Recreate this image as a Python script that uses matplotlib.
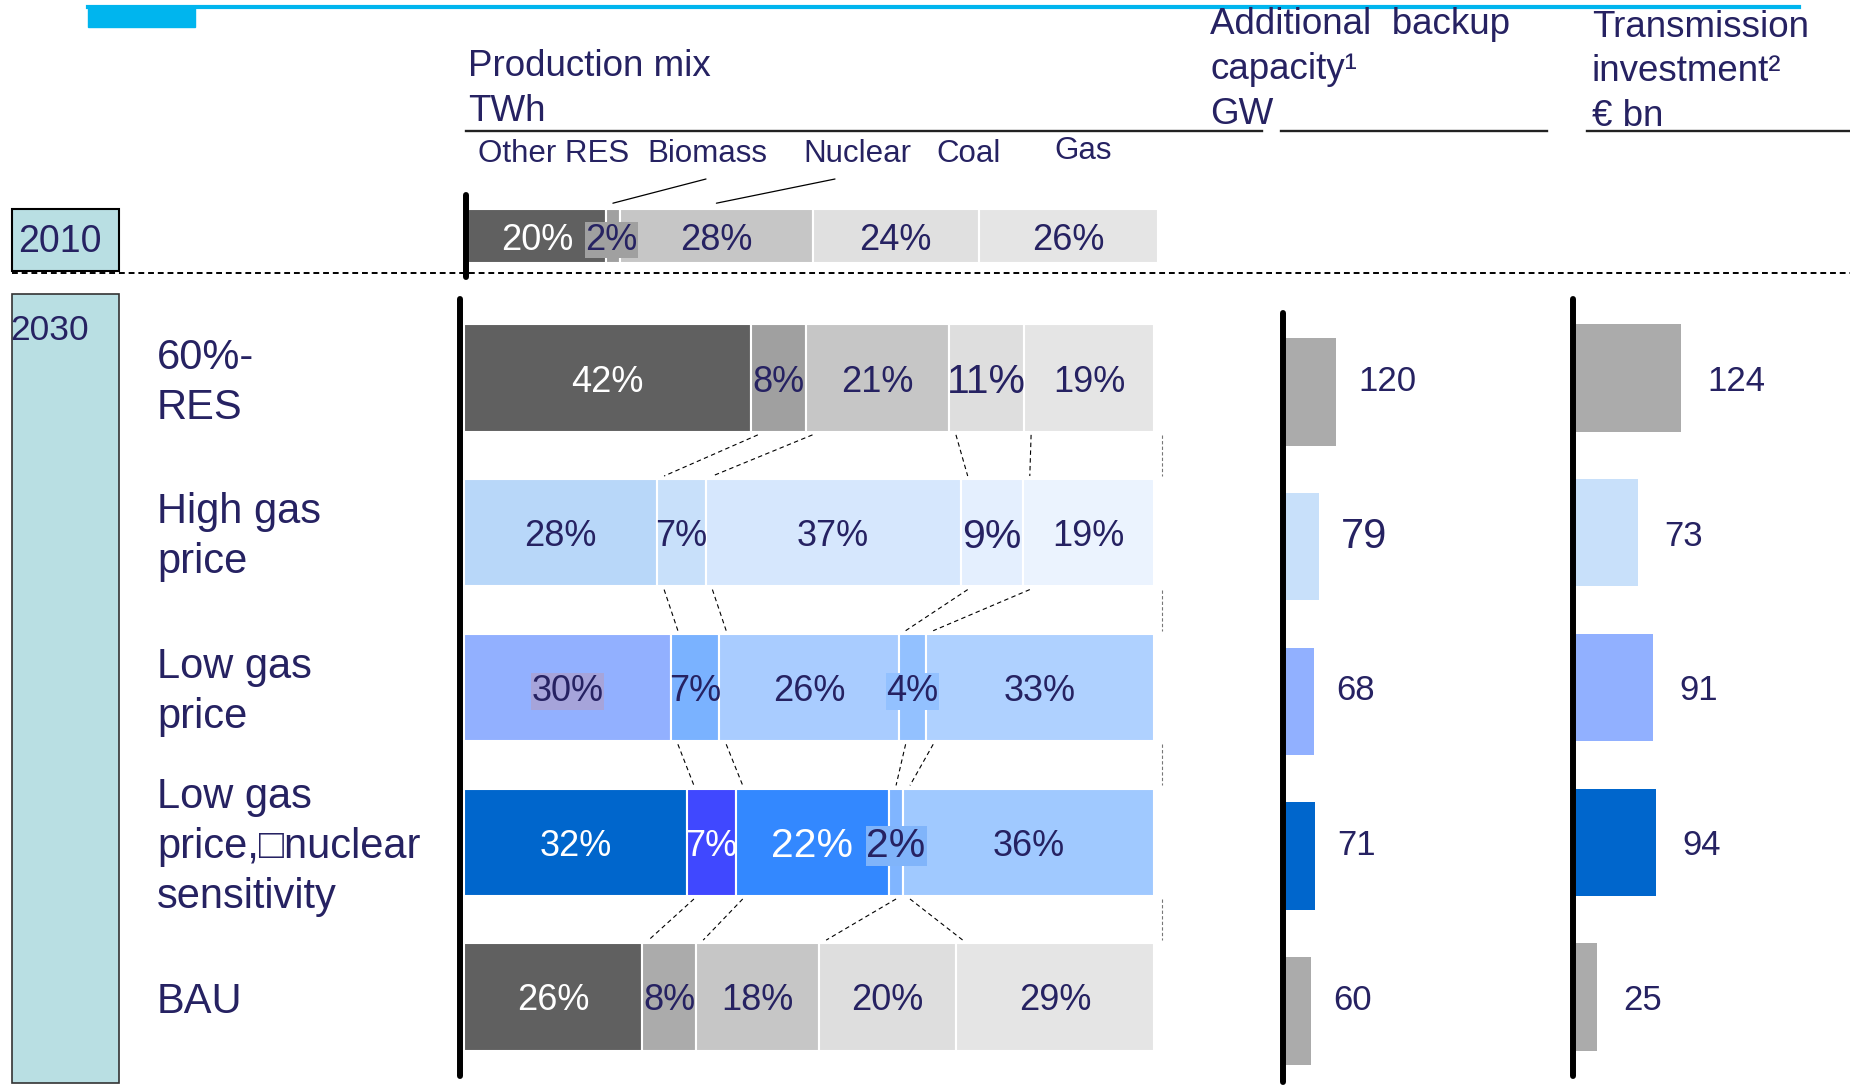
import matplotlib.pyplot as plt
import numpy as np
from matplotlib.lines import Line2D
from matplotlib.patches import Rectangle
from matplotlib.transforms import blended_transform_factory

plt.rcParams["font.family"] = ["Liberation Sans", "DejaVu Sans"]

# ----------------------------
# Data
# ----------------------------
sources = ["Other RES", "Biomass", "Nuclear", "Coal", "Gas"]
mix_2010 = [20, 2, 28, 24, 26]

scenarios = [
    "60%-\nRES",
    "High gas\nprice",
    "Low gas\nprice",
    "Low gas\nprice,\u25a1nuclear\nsensitivity",
    "BAU",
]
mix_60_res = [42, 8, 21, 11, 19]
mix_high_gas = [28, 7, 37, 9, 19]
mix_low_gas = [30, 7, 26, 4, 33]
mix_low_gas_nuclear = [32, 7, 22, 2, 36]
mix_bau = [26, 8, 18, 20, 29]
mix_2030 = [mix_60_res, mix_high_gas, mix_low_gas, mix_low_gas_nuclear, mix_bau]

backup_gw = [120, 79, 68, 71, 60]
transmission_bn = [124, 73, 91, 94, 25]

# ----------------------------
# Styles
# ----------------------------
NAVY = "#262262"
CYAN = "#00B5EE"
TEAL = "#B9DFE3"

colors_2010 = ["#606060", "#A0A0A0", "#C6C6C6", "#E0E0E0", "#E5E5E5"]
colors_2030 = [
    ["#606060", "#A0A0A0", "#C6C6C6", "#DEDEDE", "#E5E5E5"],
    ["#B8D7F9", "#C8E0FA", "#D6E7FD", "#E4EFFE", "#EBF3FE"],
    ["#92B0FF", "#7AB2FF", "#A9CCFF", "#93C1FF", "#AFD1FF"],
    ["#0066CC", "#4048FF", "#3388FF", "#80B5FF", "#A0C9FF"],
    ["#606060", "#ABABAB", "#C6C6C6", "#DEDEDE", "#E5E5E5"],
]
side_colors = ["#ABABAB", "#C8E0FA", "#91B0FF", "#0066CC", "#ABABAB"]

big_labels = {(0, 3), (1, 3), (3, 2), (3, 3)}
label_boxes = {(2, 0): "#A6A4DA", (2, 3): "#93C1FF", (3, 3): "#80B4FA"}
backup_label_sizes = [25, 30, 25, 25, 25]

W, H = 1850, 1086
fig = plt.figure(figsize=(W / 100, H / 100), dpi=100)


def fx(px):
    return px / W


def fy(py):
    return 1 - py / H


def box(left, top, right, bottom):
    return [left / W, 1 - bottom / H, (right - left) / W, (bottom - top) / H]


def text_color(hex_color):
    r, g, b = (int(hex_color[i:i + 2], 16) for i in (1, 3, 5))
    return "white" if (r + g + b) / 3 < 160 else NAVY


def setup(ax, xlim, ylim, bounds=None):
    ax.set_xlim(*xlim)
    ax.set_ylim(*ylim)
    ax.set_facecolor("none")
    for s in ("top", "right", "bottom"):
        ax.spines[s].set_visible(False)
    ax.spines["left"].set_linewidth(4.3)
    ax.spines["left"].set_capstyle("round")
    if bounds:
        ax.spines["left"].set_bounds(*bounds)
    ax.set_xticks([])
    ax.set_yticks([])


def draw_stack(ax, y, values, colors, height, row=None):
    total = sum(values)
    shares = [v / total * 100 for v in values]
    left = 0
    edges = []
    for j, (v, s, c) in enumerate(zip(values, shares, colors)):
        ax.barh(y, s, left=left, height=height, color=c, edgecolor="white", linewidth=1.5)
        size = 29.5 if (row, j) in big_labels else 26
        bbox = None
        if (row, j) in label_boxes:
            bbox = dict(facecolor=label_boxes[(row, j)], edgecolor="none", pad=0.5)
        ax.text(left + s / 2, y, f"{v}%", ha="center", va="center_baseline",
                fontsize=size, color=text_color(c), bbox=bbox)
        left += s
        edges.append(left)
    return shares, edges[:-1]


# ----------------------------
# Axes
# ----------------------------
ax_mix = fig.add_axes(box(460, 293, 1154, 1082))
setup(ax_mix, (-0.58, 100), (4.55, -0.55), (-0.51, 4.51))

ax_2010 = fig.add_axes(box(466, 195, 1158, 277))
setup(ax_2010, (-0.29, 100), (0.5, -0.5))

ax_bk = fig.add_axes(box(1283, 293, 1500, 1082))
setup(ax_bk, (-7.2, 515.7), (4.55, -0.55), (-0.42, 4.55))

ax_tr = fig.add_axes(box(1573, 293, 1850, 1082))
setup(ax_tr, (-3.5, 322.4), (4.55, -0.55), (-0.51, 4.51))

# ----------------------------
# 2010 production mix
# ----------------------------
shares_2010, _ = draw_stack(ax_2010, 0, mix_2010, colors_2010, 0.66)
ax_2010.texts[1].set_bbox(dict(facecolor="#A0A0A0", edgecolor="none", pad=0.5))
ax_2010.texts[1].set_x(20.8)

starts_2010 = np.concatenate([[0], np.cumsum(shares_2010)[:-1]])
for k, target in ((1, (706, 179)), (2, (835, 179))):
    ax_2010.annotate("", xy=(starts_2010[k] + shares_2010[k] / 2, -0.4),
                     xytext=(fx(target[0]), fy(target[1])), textcoords="figure fraction",
                     arrowprops=dict(arrowstyle="-", color="black", lw=0.9,
                                     shrinkA=0, shrinkB=0))

# ----------------------------
# 2030 production mix
# ----------------------------
half = 0.347
all_edges = []
for i, values in enumerate(mix_2030):
    _, edges = draw_stack(ax_mix, i, values, colors_2030[i], 2 * half, row=i)
    all_edges.append(edges)

# dashed connectors between matching segment edges
for i in range(len(mix_2030) - 1):
    for a, b in zip(all_edges[i], all_edges[i + 1]):
        ax_mix.plot([a + 1, b + 1], [i + half + 0.02, i + 1 - half - 0.02],
                    color="black", lw=0.8, ls=(0, (4, 3)), clip_on=False)
    ax_mix.plot([101.2, 101.2], [i + half + 0.02, i + 1 - half - 0.02],
                color="#777777", lw=0.8, ls=(0, (3, 2)), clip_on=False)

# scenario labels
row_tf = blended_transform_factory(fig.transFigure, ax_mix.transData)
for i, name in enumerate(scenarios):
    ax_mix.text(fx(157), i + 0.03, name, transform=row_tf, ha="left", va="center",
                fontsize=30, color=NAVY, linespacing=1.32)

# ----------------------------
# Backup capacity and transmission investment
# ----------------------------
rows = np.arange(len(backup_gw))
ax_bk.barh(rows + 0.09, backup_gw, height=2 * half, color=side_colors)
for i, v in enumerate(backup_gw):
    ax_bk.annotate(str(v), xy=(v, i), xytext=(16, 0), textcoords="offset points",
                   ha="left", va="center_baseline", fontsize=backup_label_sizes[i],
                   color=NAVY)

ax_tr.barh(rows, transmission_bn, height=2 * half, color=side_colors)
for i, v in enumerate(transmission_bn):
    ax_tr.annotate(str(v), xy=(v, i), xytext=(19, 0), textcoords="offset points",
                   ha="left", va="center_baseline", fontsize=25, color=NAVY)

# ----------------------------
# Headers and decorations
# ----------------------------
fig.add_artist(Line2D([fx(88), fx(1799)], [fy(7), fy(7)], color=CYAN, lw=3))
fig.add_artist(Rectangle((fx(88), fy(27)), fx(195) - fx(88), fy(6) - fy(27),
                         color=CYAN, transform=fig.transFigure))

for x0, x1 in ((466, 1262), (1281, 1547), (1587, 1850)):
    fig.add_artist(Line2D([fx(x0), fx(x1)], [fy(131), fy(131)], color="#222222", lw=1.7))

fig.add_artist(Line2D([fx(12), 1], [fy(273), fy(273)], color="black", lw=1.4,
                      ls=(0, (3, 2))))

fig.add_artist(Rectangle((fx(12), fy(271)), fx(119) - fx(12), fy(209) - fy(271),
                         facecolor=TEAL, edgecolor="black", lw=1.5,
                         transform=fig.transFigure))
fig.add_artist(Rectangle((fx(12), fy(1083)), fx(119) - fx(12), fy(294) - fy(1083),
                         facecolor=TEAL, edgecolor="#333333", lw=1.2,
                         transform=fig.transFigure))
fig.text(fx(60), fy(238), "2010", ha="center", va="center_baseline", fontsize=27, color=NAVY)
fig.text(fx(10), fy(327), "2030", ha="left", va="center_baseline", fontsize=25.5, color=NAVY)

header = dict(ha="left", va="baseline", fontsize=26.5, color=NAVY)
fig.text(fx(468), fy(76), "Production mix", **header)
fig.text(fx(468), fy(121), "TWh", **header)
fig.text(fx(1210), fy(34), "Additional  backup", **header)
fig.text(fx(1210), fy(79), "capacity\u00b9", **header)
fig.text(fx(1210), fy(124), "GW", **header)
fig.text(fx(1592), fy(37), "Transmission", **header)
fig.text(fx(1592), fy(81), "investment\u00b2", **header)
fig.text(fx(1592), fy(126), "\u20ac bn", **header)

for name, x, base in zip(sources, (478, 647, 803, 936, 1054), (162, 162, 162, 162, 159)):
    fig.text(fx(x), fy(base), name, ha="left", va="baseline", fontsize=22.5, color=NAVY)

fig.savefig("out.png", dpi=100)
